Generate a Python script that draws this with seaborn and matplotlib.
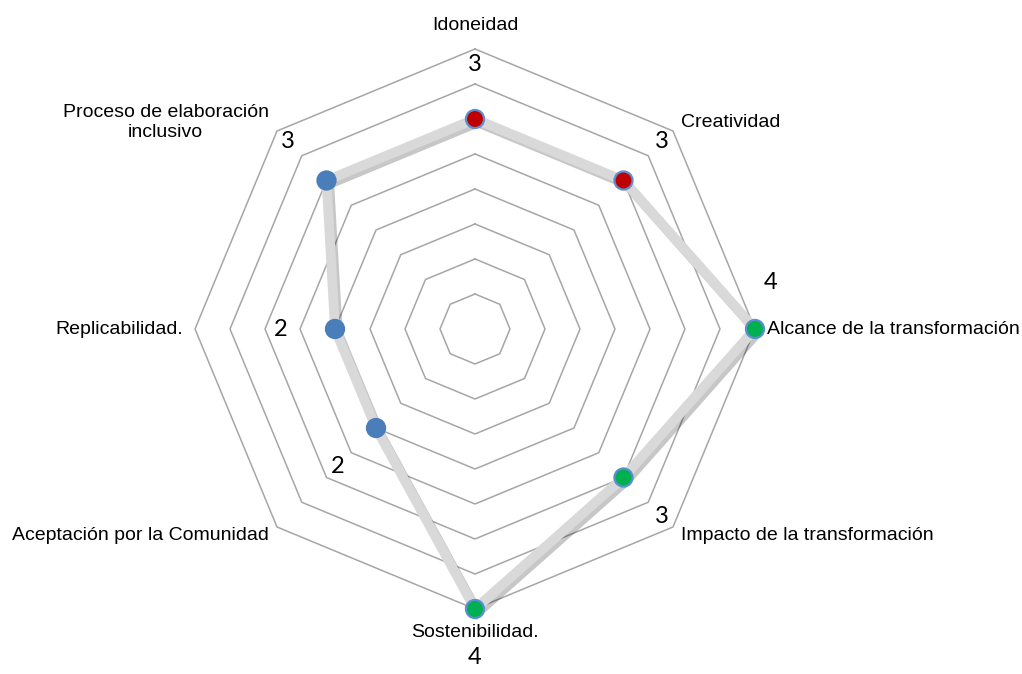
import numpy as np
import seaborn as sns
import matplotlib.pyplot as plt
import matplotlib.patheffects as pe

sns.set_style('white')
plt.rcParams['font.family'] = ['Liberation Sans', 'DejaVu Sans']

# datos
categorias = ['Idoneidad', 'Creatividad', 'Alcance de la transformación',
              'Impacto de la transformación', 'Sostenibilidad.',
              'Aceptación por la Comunidad', 'Replicabilidad.',
              'Proceso de elaboración\ninclusivo']
valores = [3, 3, 4, 3, 4, 2, 2, 3]
grupo = ['rojo', 'rojo', 'verde', 'verde', 'verde', 'azul', 'azul', 'azul']
niveles = [0.5, 1.0, 1.5, 2.0, 2.5, 3.0, 3.5, 4.0]

colores = {'rojo': '#c00000', 'verde': '#00b050', 'azul': '#4a7ebb'}
bordes = {'rojo': '#5b8fd0', 'verde': '#5b8fd0', 'azul': '#4a7ebb'}

n = len(categorias)
ang = np.deg2rad(90 - 45 * np.arange(n))  # sentido horario desde arriba
vals = np.array(valores, dtype=float)
xs = vals * np.cos(ang)
ys = vals * np.sin(ang)

fig = plt.figure(figsize=(10.22, 6.74), dpi=100)
ax = fig.add_axes([0, 0, 1, 1])
ax.set_xlim(-475 / 70, (1022 - 475) / 70)
ax.set_ylim(-345 / 70, 329 / 70)
ax.axis('off')

# anillos octogonales
ang_c = np.append(ang, ang[0])
for r in niveles:
    ax.plot(r * np.cos(ang_c), r * np.sin(ang_c), color='#a6a6a6', lw=1.1, zorder=1)

# linea de la serie con sombra
ax.plot(np.append(xs, xs[0]), np.append(ys, ys[0]), color='#d9d9d9', lw=7,
        solid_joinstyle='miter', zorder=3,
        path_effects=[pe.SimpleLineShadow(offset=(2, -2.5), shadow_color='black', alpha=0.22),
                      pe.Normal()])

sns.scatterplot(x=xs, y=ys, hue=grupo, palette=colores, s=170,
                edgecolor=[bordes[g] for g in grupo], linewidth=1.6,
                legend=False, zorder=5, ax=ax)

# etiquetas de categoria
for i, cat in enumerate(categorias):
    c, s = np.cos(ang[i]), np.sin(ang[i])
    if abs(c) < 0.01:
        r = 4.34
        ha = 'center'
    else:
        r = 4.17
        ha = 'left' if c > 0 else 'right'
    ax.text(r * c, r * s, cat, ha=ha, va='center', multialignment='center',
            fontsize=14, color='black')

# etiquetas de valor
for i, v in enumerate(valores):
    a, r = ang[i], v + 0.78
    if categorias[i].startswith('Alcance'):
        a, r = np.deg2rad(8.9), 4.27
    if categorias[i].startswith('Sostenibilidad'):
        r = 4.7
    ax.text(r * np.cos(a), r * np.sin(a), str(v), ha='center', va='center',
            fontsize=17, family=['Lato', 'DejaVu Sans'], color='black')

plt.savefig('out.png', dpi=100)
